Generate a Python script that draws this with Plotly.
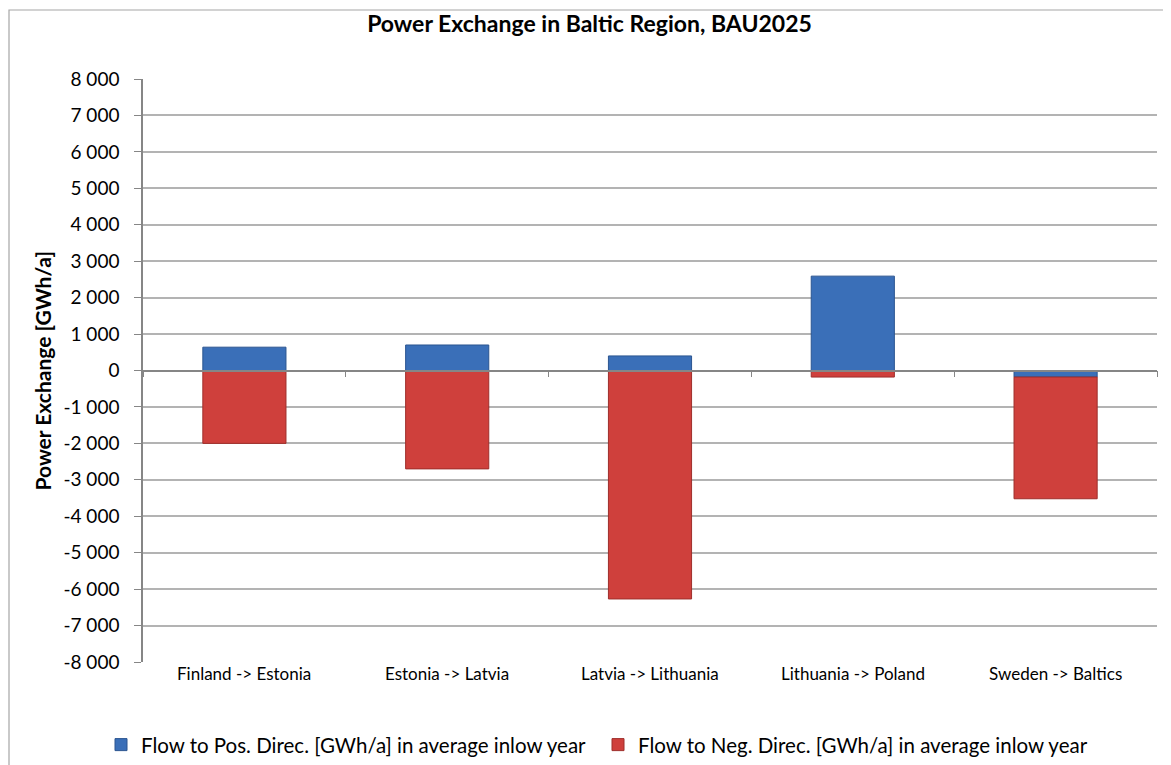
import plotly.graph_objects as go

categories = ["Finland -> Estonia", "Estonia -> Latvia", "Latvia -> Lithuania",
              "Lithuania -> Poland", "Sweden -> Baltics"]
pos_flow = [640, 700, 400, 2590, -180]
neg_flow = [-2000, -2700, -6270, -180, -3340]
tick_values = list(range(-8000, 8001, 1000))
tick_labels = [f"{v:,}".replace(",", " ") for v in tick_values]

FONT = "Lato, 'Open Sans', sans-serif"
W, H = 1163, 757  # page body has an 8px margin
L, R, T, B = 135, 14, 71, 103
PW, PH = W - L - R, H - T - B

fig = go.Figure()
fig.add_trace(go.Bar(
    x=categories, y=pos_flow,
    name="Flow to Pos. Direc. [GWh/a] in average inlow year",
    marker=dict(color="#3A6FB8", line=dict(color="#2B5590", width=1)),
    width=0.41,
))
fig.add_trace(go.Bar(
    x=categories, y=neg_flow,
    name="Flow to Neg. Direc. [GWh/a] in average inlow year",
    marker=dict(color="#CF403C", line=dict(color="#9E2E2B", width=1)),
    width=0.41,
))

for c in categories:
    fig.add_annotation(x=c, xref="x", y=0, yref="paper", yanchor="top",
                       yshift=1, text=c, showarrow=False,
                       font=dict(family=FONT, size=17, color="#000"))

# y-axis title
fig.add_annotation(x=(34 - L) / PW, xref="paper", y=0.5, yref="paper",
                   xanchor="center", yanchor="middle", textangle=-90,
                   text="<b>Power Exchange [GWh/a]</b>", showarrow=False,
                   font=dict(family=FONT, size=21, color="#000"))

# chart outer border
fig.add_shape(type="rect", xref="paper", yref="paper",
              x0=(1 - L) / PW, x1=1.03, y0=-0.25, y1=(PH + T - 2) / PH,
              line=dict(color="#A6A6A6", width=1.2), layer="below")

fig.update_layout(
    width=W, height=H,
    margin=dict(l=L, r=R, t=T, b=B, autoexpand=False),
    paper_bgcolor="white", plot_bgcolor="white",
    barmode="relative",
    font=dict(family=FONT, size=14, color="#000"),
    title=dict(text="<b>Power Exchange in Baltic Region, BAU2025</b>",
               x=0.5, xanchor="center", y=1 - 16 / H, yanchor="middle",
               font=dict(family=FONT, size=23, color="#000")),
    xaxis=dict(anchor="free", position=0.5, showline=True,
               linecolor="#868686", linewidth=1.5, automargin=False,
               ticks="outside", tickson="boundaries", ticklen=6,
               tickcolor="#868686", showticklabels=False, showgrid=False,
               zeroline=False),
    yaxis=dict(range=[-8000, 8000], tickvals=tick_values, ticktext=tick_labels,
               showline=True, linecolor="#868686", linewidth=1.5,
               automargin=False,
               ticks="outside", ticklen=7, tickcolor="#868686",
               ticklabelstandoff=11,
               showgrid=True, gridcolor="#B3B3B3", gridwidth=1.5,
               zeroline=False,
               tickfont=dict(family=FONT, size=19, color="#000")),
    legend=dict(orientation="h", xref="container", x=93 / W, xanchor="left",
                y=-0.142, yanchor="middle",
                font=dict(family=FONT, size=20.5, color="#000"),
                itemwidth=30, entrywidth=452, entrywidthmode="pixels",
                traceorder="normal"),
)

fig.write_html("out.html", config={"displayModeBar": False})
